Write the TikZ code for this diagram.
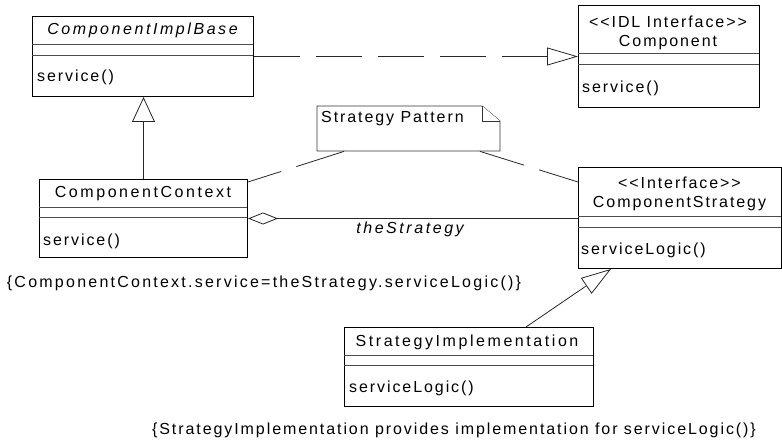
\documentclass[tikz,border=0pt]{standalone}
\usepackage{fontspec}
\newfontfamily\umlfont{Liberation Sans}[LetterSpace=12]
\newfontfamily\umlnamefont{Liberation Sans}[LetterSpace=16]
\newfontfamily\umlwidefont{Liberation Sans}[LetterSpace=14]
\usetikzlibrary{arrows.meta,calc}
\begin{document}
\begin{tikzpicture}[x=1pt,y=-1pt,
  box/.style={draw=black, line width=1pt, rectangle, inner sep=0pt, anchor=north west},
  txt/.style={font=\umlfont\fontsize{16}{19}\selectfont, inner sep=0pt, text=black},
  ntxt/.style={font=\umlnamefont\fontsize{16}{19}\selectfont, inner sep=0pt, text=black},
  itxt/.style={font=\umlnamefont\fontsize{16}{19}\selectfont\itshape, inner sep=0pt, text=black},
  divider/.style={draw=black!70, line width=0.9pt},
  conn/.style={draw=black!85, line width=0.8pt},
  notebox/.style={draw=black!80, line width=0.9pt, fill=white}
]
\useasboundingbox (0,0) rectangle (782,441);

% class boxes
\node[box, minimum width=221pt, minimum height=80pt] (cib) at (32,16) {};
\node[box, minimum width=181pt, minimum height=102pt] (comp) at (578,5) {};
\node[box, minimum width=208pt, minimum height=78pt] (cc) at (39,179) {};
\node[box, minimum width=203pt, minimum height=101pt] (cs) at (578,167) {};
\node[box, minimum width=249pt, minimum height=79pt] (si) at (344,327) {};

% compartment dividers
\draw[divider] (32,44) -- (253,44);   \draw[divider] (32,55) -- (253,55);
\draw[divider] (578,53) -- (759,53);  \draw[divider] (578,64) -- (759,64);
\draw[divider] (39,207) -- (247,207); \draw[divider] (39,217) -- (247,217);
\draw[divider] (578,216) -- (781,216); \draw[divider] (578,227) -- (781,227);
\draw[divider] (344,355) -- (593,355); \draw[divider] (344,365) -- (593,365);

% class texts
\node[itxt] (cibname) at (142.5,30) {ComponentImplBase};
\node[txt, anchor=west] (cibop) at (37,77) {service()};
\node[txt, align=center] (compname) at (668,32.5) {<<IDL Interface>>\\Component};
\node[txt, anchor=west] (compop) at (582,88) {service()};
\node[ntxt] (ccname) at (143,194) {ComponentContext};
\node[txt, anchor=west] (ccop) at (43,241) {service()};
\node[txt, align=center] (csname) at (679.5,194) {<<Interface>>\\ComponentStrategy};
\node[txt, anchor=west] (csop) at (581,250) {serviceLogic()};
\node[ntxt] (siname) at (467,342) {StrategyImplementation};
\node[txt, anchor=west] (siop) at (349,388) {serviceLogic()};

% note
\draw[notebox] (317,106) -- (482,106) -- (500,121) -- (500,151) -- (317,151) -- cycle;
\draw[notebox] (482,106) -- (482,121) -- (500,121);
\node[inner sep=0pt, minimum width=183pt, minimum height=45pt, anchor=north west] (note) at (317,106) {};
\node[txt, anchor=west] (notetext) at (321,119) {Strategy Pattern};

% constraints
\node[txt, font=\umlwidefont\fontsize{16}{19}\selectfont] (cons1) at (264,283) {\{ComponentContext.service=theStrategy.serviceLogic()\}};
\node[txt] (cons2) at (454,430) {\{StrategyImplementation provides implementation for serviceLogic()\}};

% connectors
\draw[conn, dash pattern=on 46pt off 16pt, -{Triangle[open, length=31pt, width=18pt]}] (cib.east) -- (comp.west);
\draw[conn, -{Triangle[open, length=25pt, width=23pt]}] (cc.north) -- (cc.north |- cib.south);
\draw[conn, {Diamond[open, length=30pt, width=12pt]}-] (cc.east) -- (cc.east -| cs.west);
\node[itxt] (rolelbl) at (410,229) {theStrategy};

\coordinate (nl) at ($(note.south west)+(27,0)$);
\coordinate (nr) at ($(note.south west)+(163,0)$);
\coordinate (ccn) at ($(cc.north east)+(0,3)$);
\coordinate (csn) at ($(cs.north west)+(0,15)$);
\draw[conn, dash pattern=on 50pt off 16pt] (nl) -- (ccn);
\draw[conn, dash pattern=on 46pt off 16pt] (nr) -- (csn);

\coordinate (sit) at ($(si.north west)+(182,0)$);
\coordinate (cst) at ($(cs.south west)+(33,0)$);
\draw[conn, -{Triangle[open, length=30pt, width=19pt]}] (sit) -- (cst);
\end{tikzpicture}
\end{document}
